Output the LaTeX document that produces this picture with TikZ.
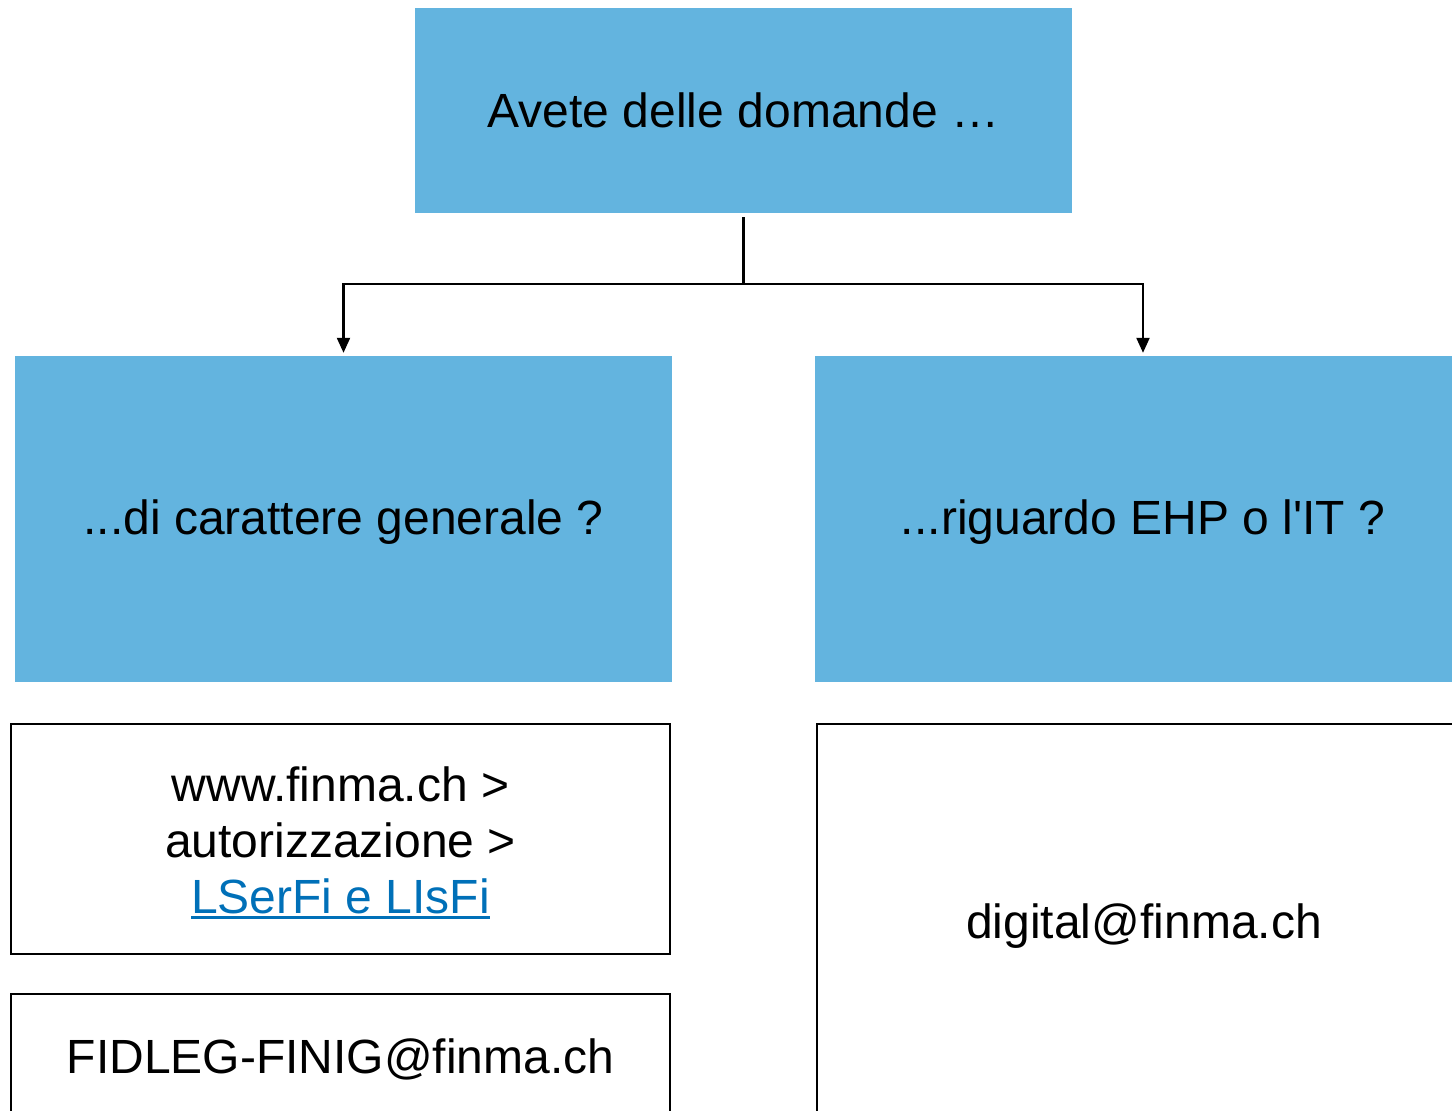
\documentclass[tikz,border=0pt]{standalone}
\usepackage{fontspec}
\setmainfont{Liberation Sans}
\usepackage{tikz}
\usetikzlibrary{
  arrows.meta
  , positioning
}
\definecolor{boxblue}{RGB}{99,180,223}
\definecolor{linkblue}{RGB}{0,112,184}
\def\biggish{\fontsize{48}{56}\selectfont}
\newsavebox\linkbox
\def\linkline#1{\sbox\linkbox{#1}\leavevmode\rlap{\rule[-6pt]{\wd\linkbox}{3pt}}\usebox\linkbox}

\begin{document}
\begin{tikzpicture}[x=1pt,y=-1pt]
      \tikzstyle{question}=[rectangle, fill=boxblue, inner sep=0pt, font=\biggish]
      \tikzstyle{answer}=[rectangle, draw=black, line width=2.5pt, inner sep=0pt, fill=white, font=\biggish, align=center]

      \useasboundingbox (0,0) rectangle (1452,1111);

      \node [question, minimum width=657pt, minimum height=205pt] (Q) at (743.5,110.5){Avete delle domande …};
      \node [question, minimum width=657pt, minimum height=326pt] (G) at (343.5,519){};
      \node [font=\biggish] (Gt) at (343.5,522){...di carattere generale ?};
      \node [question, minimum width=637pt, minimum height=326pt] (IT) at (1133.5,519){};
      \node [font=\biggish] (ITt) at (1143,522){...riguardo EHP o l\textquotesingle IT ?};

      \node [answer, minimum width=659pt, minimum height=230pt] (Web) at (340.5,839){};
      \node [font=\biggish, align=center] (Webt) at (340.5,843){www.finma.ch >\\autorizzazione >\\\textcolor{linkblue}{\linkline{LSerFi e LIsFi}}};
      \node [answer, minimum width=659pt, minimum height=140pt] (Mail) at (340.5,1064){};
      \node [font=\biggish] (Mailt) at (340.5,1059){FIDLEG-FINIG@finma.ch};
      \node [answer, minimum width=660pt, minimum height=420pt] (Dig) at (1147,934){};
      \node [font=\biggish] (Digt) at (1144,926){digital@finma.ch};

      \coordinate (J) at (Q.south |- 0,284);
      \draw [line width=2.2pt] ([yshift=-4pt]Q.south) -- (J);
      \draw [line width=2.2pt, -{Triangle[length=15pt, width=13pt]}, shorten >=3pt] (J) -| (G.north);
      \draw [line width=2.2pt, -{Triangle[length=15pt, width=13pt]}, shorten >=3pt] (J) -| (ITt.center |- IT.north);

    \end{tikzpicture}
\end{document}
